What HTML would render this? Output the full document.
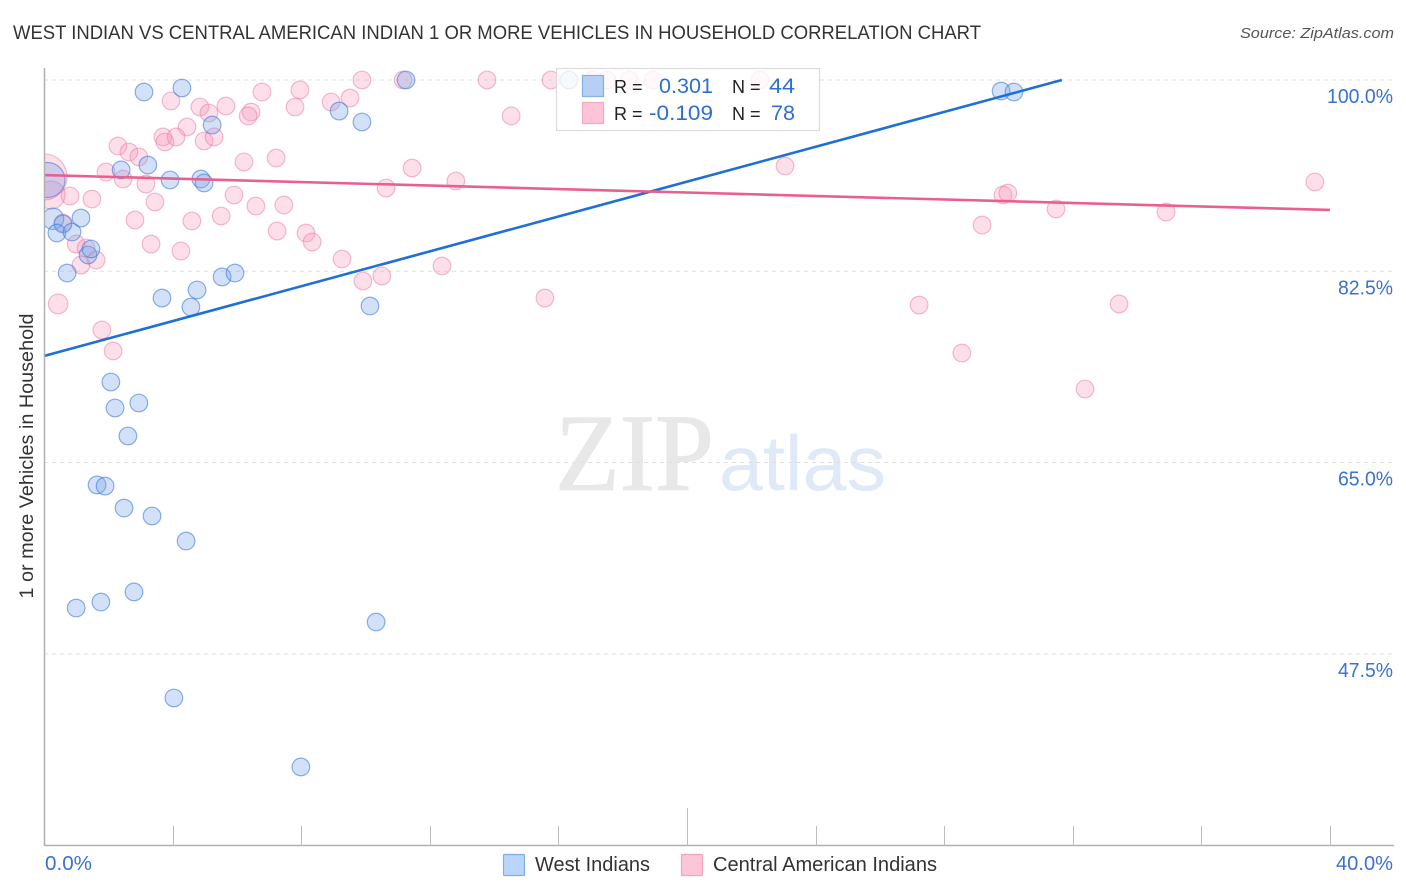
<!DOCTYPE html>
<html lang="en">
<head>
<meta charset="utf-8">
<title>West Indian vs Central American Indian correlation chart</title>
<style>
html,body{margin:0;padding:0;background:#fff;}
body{width:1406px;height:892px;overflow:hidden;}
svg{display:block;font-family:"Liberation Sans",sans-serif;}
</style>
</head>
<body>
<svg id="chart" width="1406" height="892" viewBox="0 0 1406 892" xmlns="http://www.w3.org/2000/svg">
  <text x="13" y="39" font-size="19" fill="#333" textLength="968" lengthAdjust="spacingAndGlyphs">WEST INDIAN VS CENTRAL AMERICAN INDIAN 1 OR MORE VEHICLES IN HOUSEHOLD CORRELATION CHART</text>
  <text x="1394" y="38" font-size="15" font-style="italic" fill="#555" text-anchor="end" textLength="154" lengthAdjust="spacingAndGlyphs">Source: ZipAtlas.com</text>
  <g id="watermark">
    <text x="555" y="490" font-family="'Liberation Serif',serif" font-size="110" fill="#e8e8e8" stroke="#e8e8e8" stroke-width="1" textLength="159" lengthAdjust="spacingAndGlyphs">ZIP</text>
    <text x="719" y="490" font-size="78" fill="#e0e9f8" textLength="167" lengthAdjust="spacingAndGlyphs">atlas</text>
  </g>
  <g id="grid"></g>
  <g id="marks"></g>
  <rect x="0" y="60" width="44" height="786" fill="#fff"/>
  <g id="trends"></g>
  <g id="axes"></g>
  <g>
    <rect x="556.5" y="68.5" width="263" height="62" fill="#fff" fill-opacity="0.8" stroke="#dcdcdc" stroke-width="1.2"/>
    <rect x="582.5" y="75.5" width="21" height="21" fill="#b5cff5" stroke="#86b0ea" stroke-width="1.2"/>
    <rect x="582.5" y="102.5" width="21" height="21" fill="#fdc4d6" stroke="#f3a9c0" stroke-width="1.2"/>
    <text x="614" y="93" font-size="18" fill="#222">R =</text>
    <text x="713" y="93" font-size="21" fill="#2f6fd0" text-anchor="end" textLength="54" lengthAdjust="spacingAndGlyphs">0.301</text>
    <text x="732" y="93" font-size="18" fill="#222">N =</text>
    <text x="795" y="93" font-size="21" fill="#2f6fd0" text-anchor="end" textLength="26" lengthAdjust="spacingAndGlyphs">44</text>
    <text x="614" y="120" font-size="18" fill="#222">R =</text>
    <text x="713" y="120" font-size="21" fill="#2f6fd0" text-anchor="end" textLength="64" lengthAdjust="spacingAndGlyphs">-0.109</text>
    <text x="732" y="120" font-size="18" fill="#222">N =</text>
    <text x="795" y="120" font-size="21" fill="#2f6fd0" text-anchor="end" textLength="24" lengthAdjust="spacingAndGlyphs">78</text>
  </g>
  <text transform="translate(33,456) rotate(-90)" font-size="19" fill="#333" text-anchor="middle" textLength="285" lengthAdjust="spacingAndGlyphs">1 or more Vehicles in Household</text>
  <g>
    <rect x="503.5" y="854.5" width="21" height="21" rx="1" fill="#b9d5fb" stroke="#7fade8" stroke-width="1.2"/>
    <text x="535" y="871" font-size="20" fill="#333" textLength="115" lengthAdjust="spacingAndGlyphs">West Indians</text>
    <rect x="681.5" y="854.5" width="21" height="21" rx="1" fill="#fdc6d8" stroke="#f0a3bc" stroke-width="1.2"/>
    <text x="713" y="871" font-size="20" fill="#333" textLength="224" lengthAdjust="spacingAndGlyphs">Central American Indians</text>
  </g>
</svg>
<script>
const yTickValues = [100, 82.5, 65, 47.5];
const yTickLabels = ['100.0%', '82.5%', '65.0%', '47.5%'];
const xTickCount = 11;
const xDomain = [0, 40];
const xEdgeLabels = ['0.0%', '40.0%'];

const blueX = [3.11,4.29,11.26,9.18,9.89,5.23,29.77,30.17,16.33,3.23,2.40,3.92,4.88,4.98,0.11,0.28,0.59,0.40,0.87,1.15,1.37,1.46,0.72,5.54,5.94,4.76,3.67,4.57,10.14,2.08,2.21,2.95,2.61,1.65,1.90,2.49,3.36,4.42,2.80,1.77,1.00,10.33,4.04,7.99];
const blueY = [98.90,99.27,100,97.16,96.16,95.88,98.99,98.90,100,92.22,91.77,90.85,90.94,90.58,90.85,87.30,86.83,86.00,86.09,87.37,83.99,84.54,82.34,81.98,82.34,80.79,80.05,79.23,79.32,72.37,69.99,70.45,67.43,62.95,62.85,60.84,60.11,57.82,53.16,52.24,51.69,50.41,43.46,37.15];
const blueWeight = [1,1,1,1,1,1,1,1,1,1,1,1,1,1,3.95,1.48,1,1,1,1,1,1,1,1,1,1,1,1,1,1,1,1,1,1,1,1,1,1,1,1,1,1,1,1];

const pinkX = [3.95,4.85,5.13,5.66,6.44,6.35,6.78,7.96,7.81,8.93,9.52,4.45,3.70,3.76,4.11,4.98,5.29,2.30,2.64,2.95,6.22,7.22,1.93,2.46,3.17,5.91,3.45,6.59,7.46,0.81,1.49,0.22,0,2.83,4.60,5.51,7.25,8.15,8.34,3.33,4.26,9.27,0.59,1.00,1.31,1.62,1.15,0.44,1.80,2.15,9.89,11.17,13.78,15.77,17.08,17.51,18.20,18.94,22.27,14.53,11.45,12.81,10.64,23.05,12.38,10.51,9.92,15.58,29.83,29.98,31.48,34.90,39.53,29.18,33.44,27.22,28.55,32.38];
const pinkY = [98.08,97.53,96.98,97.62,97.07,96.71,98.90,99.09,97.53,97.99,98.35,95.70,94.79,94.33,94.79,94.42,94.79,93.96,93.41,92.96,92.50,92.86,91.58,90.94,90.48,89.48,88.84,88.47,88.56,89.39,89.11,89.48,91.13,87.19,87.10,87.56,86.18,86.00,85.18,84.99,84.35,83.62,86.92,84.99,84.63,83.53,83.07,79.51,77.13,75.21,100,100,100,100,100,100,100,100,100,96.71,91.95,90.76,90.12,92.13,82.98,82.07,81.61,80.05,89.48,89.66,88.20,87.92,90.67,86.73,79.51,79.41,75.02,71.73];
const pinkWeight = [1,1,1,1,1,1,1,1,1,1,1,1,1,1,1,1,1,1,1,1,1,1,1,1,1,1,1,1,1,1,1,2.53,6.83,1,1,1,1,1,1,1,1,1,1,1,1,1,1,1.25,1,1,1,1,1,1,1,1,1,1,1,1,1,1,1,1,1,1,1,1,1,1,1,1,1,1,1,1,1,1];

const blueTrendX = [0, 31.66];
const blueTrendY = [74.75, 100];
const pinkTrendX = [0, 40];
const pinkTrendY = [91.3, 88.11];

const NS = 'http://www.w3.org/2000/svg';
function xScale(v){ return 44 + (v - xDomain[0]) / (xDomain[1] - xDomain[0]) * 1286; }
function yScale(v){ return 80 + (100 - v) * 10.93; }
function make(tag, parent, attrs){
  const el = document.createElementNS(NS, tag);
  for (const k in attrs) el.setAttribute(k, attrs[k]);
  parent.appendChild(el);
  return el;
}
const grid = document.getElementById('grid');
const axes = document.getElementById('axes');
const marks = document.getElementById('marks');
const trends = document.getElementById('trends');

const yLabelWidthPerChar = 11;
yTickValues.forEach(function(v, i){
  const y = yScale(v);
  const line = make('line', grid, {x1:44, x2:1394, y1:y, y2:y, stroke:'#e0e0e0', 'stroke-width':1, 'stroke-dasharray':'4 4'});
  
  
  const t = make('text', axes, {x:1393, y:y+23, 'font-size':20, fill:'#3a72d0', 'text-anchor':'end', textLength:yTickLabels[i].length * yLabelWidthPerChar, lengthAdjust:'spacingAndGlyphs'});
  t.textContent = yTickLabels[i];
  
  
});

const yAxis = make('line', axes, {x1:44.5, x2:44.5, y1:68, y2:846, stroke:'#b0b0b0', 'stroke-width':1.5});


const xAxis = make('line', axes, {x1:44, x2:1394, y1:845.5, y2:845.5, stroke:'#b0b0b0', 'stroke-width':1.5});



for (let i = 1; i < xTickCount; i++) {
  const x = Math.round(xScale(xDomain[0] + (xDomain[1] - xDomain[0]) * i / (xTickCount - 1))) + 0.5;
  const top = i === 5 ? 808 : 826;
  const tick = make('line', axes, {x1:x, x2:x, y1:top, y2:846, stroke:'#bdbdbd', 'stroke-width':1});
  
  
}
const xLabelLeft = make('text', axes, {x:45, y:870, 'font-size':20, fill:'#3a72d0', textLength:47, lengthAdjust:'spacingAndGlyphs'});
xLabelLeft.textContent = xEdgeLabels[0];


const xLabelRight = make('text', axes, {x:1393, y:870, 'font-size':20, fill:'#3a72d0', 'text-anchor':'end', textLength:57, lengthAdjust:'spacingAndGlyphs'});
xLabelRight.textContent = xEdgeLabels[1];



pinkX.forEach(function(v, i){
  const c = make('circle', marks, {cx:xScale(v), cy:yScale(pinkY[i]), r:8.8*Math.sqrt(pinkWeight[i]), fill:'#f796b9', 'fill-opacity':0.3, stroke:'#eb78a0', 'stroke-opacity':0.5, 'stroke-width':1.2});
  
  
});
blueX.forEach(function(v, i){
  const c = make('circle', marks, {cx:xScale(v), cy:yScale(blueY[i]), r:8.8*Math.sqrt(blueWeight[i]), fill:'#78a5eb', 'fill-opacity':0.33, stroke:'#3c7ddc', 'stroke-opacity':0.6, 'stroke-width':1.2});
  
  
});

const blueTrend = make('line', trends, {x1:xScale(blueTrendX[0]), y1:yScale(blueTrendY[0]), x2:xScale(blueTrendX[1]), y2:yScale(blueTrendY[1]), stroke:'#1f6fd8', 'stroke-width':2.6});


const pinkTrend = make('line', trends, {x1:xScale(pinkTrendX[0]), y1:yScale(pinkTrendY[0]), x2:xScale(pinkTrendX[1]), y2:yScale(pinkTrendY[1]), stroke:'#e8608f', 'stroke-width':2.6});


</script>
</body>
</html>
